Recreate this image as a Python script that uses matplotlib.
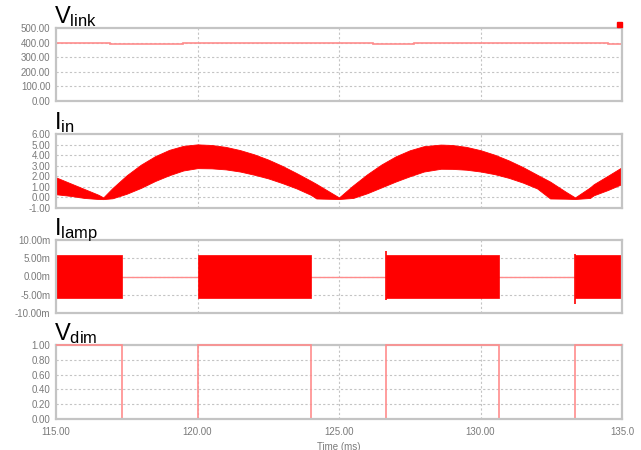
import matplotlib
matplotlib.use("Agg")
import matplotlib.pyplot as plt
from matplotlib.patches import Rectangle

plt.rcParams['font.family'] = ['Liberation Sans', 'DejaVu Sans']
plt.rcParams['mathtext.fontset'] = 'custom'
plt.rcParams['mathtext.rm'] = 'Liberation Sans'
plt.rcParams['mathtext.it'] = 'Liberation Sans'

# V_link: steps (edges in ms, level in V)
vlink_edges = [115.0, 116.9, 119.5, 126.2, 127.65, 134.5, 135.0]
vlink_level = [400, 392, 400, 392, 400, 392]

# I_in: envelope of the switching band (A)
iin_t = [115.0, 115.5, 116.0, 116.5, 116.67, 117.0, 117.5, 118.0, 118.5, 119.0,
         119.5, 120.0, 120.5, 121.0, 121.5, 122.0, 122.5, 123.0, 123.5, 124.0,
         124.2, 124.5, 125.0, 125.5, 126.0, 126.5, 127.0, 127.5, 128.0, 128.6,
         129.0, 129.5, 130.0, 130.5, 131.0, 131.5, 132.0, 132.46, 133.0, 133.34,
         133.87, 134.0, 134.5, 135.0]
iin_upper = [1.9, 1.35, 0.8, 0.25, 0.0, 0.9, 2.1, 3.1, 3.9, 4.5,
             4.88, 5.02, 4.96, 4.78, 4.48, 4.08, 3.58, 2.98, 2.3, 1.58,
             1.28, 0.8, 0.0, 1.15, 2.2, 3.12, 3.88, 4.46, 4.85, 5.0,
             4.96, 4.78, 4.47, 4.04, 3.5, 2.87, 2.15, 1.5, 0.56, 0.0,
             0.95, 1.25, 2.05, 2.87]
iin_lower = [0.3, 0.15, -0.05, -0.15, -0.16, -0.08, 0.35, 0.9, 1.55, 2.1,
             2.55, 2.77, 2.75, 2.65, 2.45, 2.15, 1.8, 1.35, 0.85, 0.25,
             -0.1, -0.12, -0.15, -0.05, 0.4, 0.95, 1.5, 2.0, 2.45, 2.71,
             2.7, 2.62, 2.45, 2.2, 1.85, 1.4, 0.85, -0.1, -0.12, -0.15,
             -0.05, 0.2, 0.7, 1.27]

# I_lamp: burst windows and burst amplitude (A)
burst_start = [115.0, 120.0, 126.66, 133.33]
burst_end = [117.33, 124.0, 130.66, 135.0]
burst_hi = [6.0e-3, 6.0e-3, 6.0e-3, 6.0e-3]
burst_lo = [-6.0e-3, -6.0e-3, -6.0e-3, -6.0e-3]
spike_t = [126.66, 133.33]
spike_hi = [7.0e-3, 6.2e-3]
spike_lo = [-6.5e-3, -7.4e-3]

# V_dim: PWM dimming signal
vdim_edges = [115.0, 117.33, 120.0, 124.0, 126.66, 130.66, 133.33, 135.0]
vdim_level = [1, 0, 1, 0, 1, 0, 1]

x_ticks = [115, 120, 125, 130, 135]
x_labels = ['115.00', '120.00', '125.00', '130.00', '135.0']

RED = '#ff0000'
LIGHT = '#ff8c8c'
GRAY = '#c4c4c4'
TXT = '#7a7a7a'

fig = plt.figure(figsize=(6.41, 4.5), dpi=100)
L, W = 56 / 641, 566 / 641
boxes = [(28, 101), (134, 208), (240, 313), (345, 419)]
axes = []
for top, bot in boxes:
    ax = fig.add_axes([L, 1 - bot / 450, W, (bot - top) / 450])
    axes.append(ax)


def style(ax, yticks, ylabels, title):
    ax.set_xlim(115, 135)
    ax.set_ylim(yticks[0], yticks[-1])
    ax.set_yticks(yticks)
    ax.set_yticklabels(ylabels)
    ax.set_xticks(x_ticks)
    for s in ax.spines.values():
        s.set_color(GRAY)
        s.set_linewidth(1.6)
    ax.tick_params(length=0, pad=4, labelsize=7, labelcolor=TXT)
    for y in yticks[1:-1]:
        ax.axhline(y, color=GRAY, lw=0.8, ls=(0, (2, 2)), zorder=0)
    for x in x_ticks[1:-1]:
        ax.axvline(x, color=GRAY, lw=0.8, ls=(0, (2, 2)), zorder=0)
    ax.annotate(title, xy=(0, 1), xycoords='axes fraction', xytext=(-2, 5),
                textcoords='offset pixels', fontsize=17, ha='left', va='baseline')


# V_link
ax = axes[0]
ax.stairs(vlink_level, vlink_edges, color=LIGHT, lw=1.2, baseline=None)
style(ax, [0, 100, 200, 300, 400, 500],
      ['0.00', '100.00', '200.00', '300.00', '400.00', '500.00'],
      r'$\mathregular{V_{link}}$')

# I_in
ax = axes[1]
ax.fill_between(iin_t, iin_lower, iin_upper, color=RED, lw=0.6, edgecolor=RED)
style(ax, [-1, 0, 1, 2, 3, 4, 5, 6],
      ['-1.00', '0.00', '1.00', '2.00', '3.00', '4.00', '5.00', '6.00'],
      r'$\mathregular{I_{in}}$')

# I_lamp
ax = axes[2]
ax.axhline(0, color=LIGHT, lw=1.0, zorder=1)
for s, e, hi, lo in zip(burst_start, burst_end, burst_hi, burst_lo):
    ax.fill_between([s, e], [lo, lo], [hi, hi], color=RED, lw=0.5, edgecolor=RED, zorder=2)
ax.vlines(spike_t, spike_lo, spike_hi, color=RED, lw=1.2, zorder=2)
style(ax, [-10e-3, -5e-3, 0, 5e-3, 10e-3],
      ['-10.00m', '-5.00m', '0.00m', '5.00m', '10.00m'],
      r'$\mathregular{I_{lamp}}$')

# V_dim
ax = axes[3]
ax.stairs(vdim_level, vdim_edges, color=LIGHT, lw=1.2, baseline=None,
          clip_on=False, zorder=3)
style(ax, [0, 0.2, 0.4, 0.6, 0.8, 1.0],
      ['0.00', '0.20', '0.40', '0.60', '0.80', '1.00'],
      r'$\mathregular{V_{dim}}$')
# low level sits under the grey frame in the original
ax.spines['bottom'].set_zorder(4)

for ax in axes[:3]:
    ax.set_xticklabels([])
axes[3].set_xticklabels(x_labels)
axes[3].tick_params(axis='x', pad=6)
axes[3].set_xlabel('Time (ms)', fontsize=7, color=TXT, labelpad=3)

fig.add_artist(Rectangle((617 / 641, 1 - 27 / 450), 5 / 641, 5 / 450,
                         transform=fig.transFigure, color=RED))

fig.savefig('out.png', dpi=100)
